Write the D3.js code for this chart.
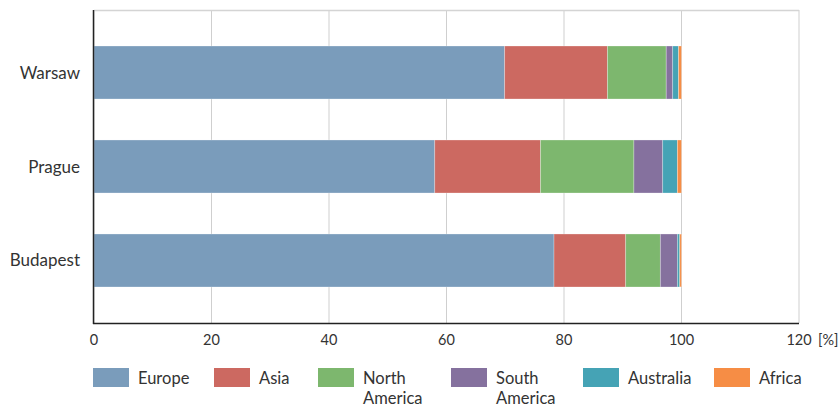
<!DOCTYPE html>
<html>
<head>
<meta charset="utf-8">
<script src="https://cdn.jsdelivr.net/npm/d3@7"></script>
<style>
  body { margin: 0; background: #fff; }
  text { font-family: Lato, "Open Sans", sans-serif; fill: #333; }
</style>
</head>
<body>
<svg id="chart" width="839" height="408"></svg>
<script>
// data (percent shares)
var cities = ['Warsaw', 'Prague', 'Budapest'];
var regions = ['Europe', 'Asia', 'North America', 'South America', 'Australia', 'Africa'];
var europe       = [69.9, 58.0, 78.3];
var asia         = [17.5, 18.0, 12.2];
var northAmerica = [10.0, 15.9,  5.9];
var southAmerica = [ 1.1,  4.9,  2.9];
var australia    = [ 1.0,  2.5,  0.4];
var africa       = [ 0.5,  0.7,  0.3];
var xTicks = [0, 20, 40, 60, 80, 100, 120];

var colors = ['#7a9cbb', '#cc6961', '#7db76e', '#85719e', '#45a3b5', '#f68d45'];
var series = [europe, asia, northAmerica, southAmerica, australia, africa];

var rows = cities.map(function(c, i){
    var r = { city: c };
    regions.forEach(function(reg, j){ r[reg] = series[j][i]; });
    return r;
});

var svg = d3.select('#chart');
var m = { left: 94, right: 40, top: 10, bottom: 85 };
var W = 839, H = 408;

var x = d3.scaleLinear().domain([0, 120]).range([m.left, W - m.right]);
var y = d3.scaleBand().domain(cities).range([m.top, H - m.bottom])
    .paddingInner(0.436).paddingOuter(0.383);

// grid
svg.append('g').selectAll('line').data(xTicks).enter().append('line')
    .attr('x1', function(d){ return x(d); })
    .attr('x2', function(d){ return x(d); })
    .attr('y1', m.top).attr('y2', H - m.bottom)
    .attr('stroke', '#cfcfcf').attr('stroke-width', 1);

// top frame line
svg.append('line')
    .attr('x1', m.left).attr('x2', x(120))
    .attr('y1', m.top + 0.5).attr('y2', m.top + 0.5)
    .attr('stroke', '#d4d4d4').attr('stroke-width', 1.5);

var stack = d3.stack().keys(regions)(rows);

svg.append('g').selectAll('g').data(stack).enter().append('g')
    .attr('fill', function(d, i){ return colors[i]; })
    .selectAll('rect').data(function(d){ return d; }).enter().append('rect')
    .attr('x', function(d){ return x(d[0]); })
    .attr('width', function(d){ return x(d[1]) - x(d[0]); })
    .attr('y', function(d){ return y(d.data.city); })
    .attr('height', y.bandwidth())
    .attr('stroke', 'rgba(255,255,255,0.35)')
    .attr('stroke-width', 0.8);

// axes lines
svg.append('line')
    .attr('x1', m.left - 0.5).attr('x2', m.left - 0.5)
    .attr('y1', m.top).attr('y2', H - m.bottom + 1)
    .attr('stroke', '#222').attr('stroke-width', 1.5);
svg.append('line')
    .attr('x1', m.left - 1).attr('x2', x(120))
    .attr('y1', H - m.bottom + 0.5).attr('y2', H - m.bottom + 0.5)
    .attr('stroke', '#222').attr('stroke-width', 1.5);

// x tick labels
svg.append('g').selectAll('text').data(xTicks).enter().append('text')
    .attr('x', function(d){ return x(d); })
    .attr('y', H - m.bottom + 22)
    .attr('text-anchor', 'middle')
    .attr('font-size', 14.5)
    .text(function(d){ return d; });
svg.append('text')
    .attr('x', x(120) + 19).attr('y', H - m.bottom + 22)
    .attr('font-size', 14.5)
    .text('[%]');

// y labels
svg.append('g').selectAll('text').data(cities).enter().append('text')
    .attr('x', m.left - 14)
    .attr('y', function(d){ return y(d) + y.bandwidth() / 2 + 6; })
    .attr('text-anchor', 'end')
    .attr('font-size', 17)
    .text(function(d){ return d; });

// legend
var legendX = [93, 214, 318, 451, 583, 714];
var lg = svg.append('g').selectAll('g').data(regions).enter().append('g')
    .attr('transform', function(d, i){ return 'translate(' + legendX[i] + ',368)'; });
lg.append('rect')
    .attr('width', 36).attr('height', 19)
    .attr('fill', function(d, i){ return colors[i]; });
lg.append('text')
    .attr('x', 45).attr('y', 16)
    .attr('font-size', 16.5)
    .each(function(d){
        var t = d3.select(this);
        d.split(' ').forEach(function(w, k){
            t.append('tspan').attr('x', 45).attr('dy', k ? 20 : 0).text(w);
        });
    });
</script>
</body>
</html>
